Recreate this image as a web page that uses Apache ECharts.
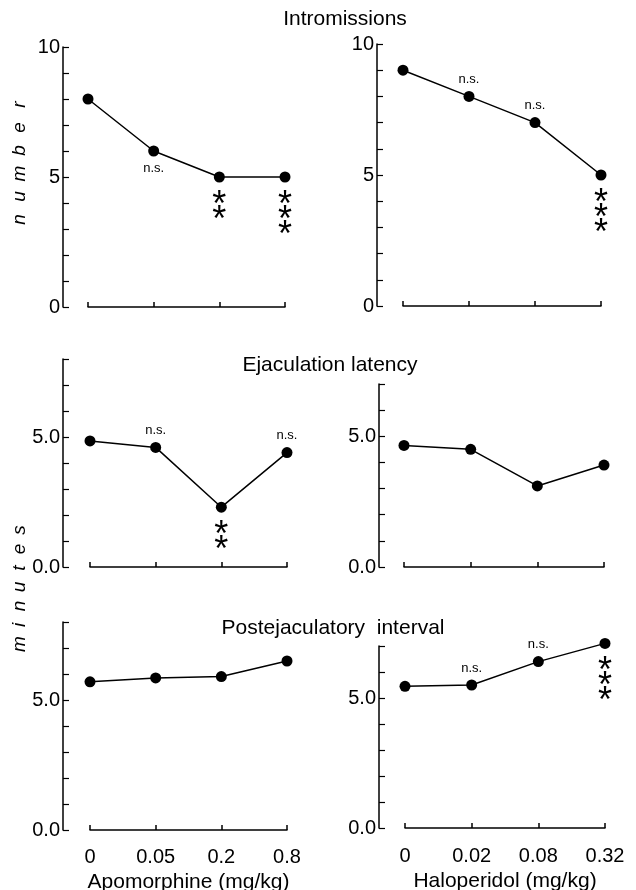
<!DOCTYPE html>
<html>
<head>
<meta charset="utf-8">
<script src="https://cdn.jsdelivr.net/npm/echarts@6/dist/echarts.min.js"></script>
<style>
  html, body { margin: 0; padding: 0; background: #fff; }
  #chart { width: 636px; height: 890px; }
</style>
</head>
<body>
<div id="chart"></div>
<script>
// doses (x categories)
const doseApo = ["0", "0.05", "0.2", "0.8"];
const doseHal = ["0", "0.02", "0.08", "0.32"];

// intromissions (number)
const intromApo = [8.0, 6.0, 5.0, 5.0];
const intromHal = [9.0, 8.0, 7.0, 5.0];
// ejaculation latency (minutes)
const latencyApo = [4.85, 4.6, 2.3, 4.4];
const latencyHal = [4.65, 4.5, 3.1, 3.9];
// postejaculatory interval (minutes)
const peiApo = [5.7, 5.85, 5.9, 6.5];
const peiHal = [5.45, 5.5, 6.4, 7.1];

// significance marks
const sigIntromApo = ["", "n.s.", "**", "***"];
const sigIntromHal = ["", "n.s.", "n.s.", "***"];
const sigLatencyApo = ["", "n.s.", "**", "n.s."];
const sigLatencyHal = ["", "", "", ""];
const sigPeiApo = ["", "", "", ""];
const sigPeiHal = ["", "n.s.", "n.s.", "***"];

const FONT = "Liberation Sans";

// one entry per panel
const panels = [
  { left: 88, top: 47, width: 197, height: 260, yOff: 25, xOff: 10, max: 10, dec: 0,
    cats: doseApo, data: intromApo, sig: sigIntromApo, nsPos: "bottom" },
  { left: 403, top: 44, width: 198, height: 262, yOff: 26, xOff: 12, max: 10, dec: 0,
    cats: doseHal, data: intromHal, sig: sigIntromHal, nsPos: "top" },
  { left: 90, top: 359, width: 197, height: 208, yOff: 27, xOff: 13, max: 8, dec: 1,
    cats: doseApo, data: latencyApo, sig: sigLatencyApo, nsPos: "top" },
  { left: 404, top: 384, width: 200, height: 183, yOff: 25, xOff: 12, max: 7, dec: 1,
    cats: doseHal, data: latencyHal, sig: sigLatencyHal, nsPos: "top" },
  { left: 90, top: 622, width: 197, height: 208, yOff: 27, xOff: 12, max: 8, dec: 1,
    cats: doseApo, data: peiApo, sig: sigPeiApo, nsPos: "top",
    name: "Apomorphine (mg/kg)" },
  { left: 405, top: 646, width: 200, height: 182, yOff: 26, xOff: 13, max: 7, dec: 1,
    cats: doseHal, data: peiHal, sig: sigPeiHal, nsPos: "top",
    name: "Haloperidol (mg/kg)" }
];

const axisLine = { show: true, lineStyle: { color: "#000", width: 1.5 } };

function pointLabel(mark, nsPos) {
  if (!mark) return { show: false };
  if (mark === "n.s.") {
    return { show: true, formatter: "n.s.", position: nsPos, distance: 5,
      fontFamily: FONT, fontSize: 13, color: "#000" };
  }
  // asterisks stacked vertically
  return { show: true, formatter: mark.split("").join("\n"), position: "bottom",
    distance: 16, fontFamily: FONT, fontSize: 36, lineHeight: 15, color: "#000" };
}

const grid = [], xAxis = [], yAxis = [], series = [];
panels.forEach(function(p, i) {
  grid.push({ left: p.left, top: p.top, width: p.width, height: p.height,
    containLabel: false, outerBoundsMode: "none" });
  xAxis.push({
    type: "category", gridIndex: i, data: p.cats, boundaryGap: false,
    offset: p.xOff, axisLine: axisLine,
    axisTick: { show: true, inside: true, length: 5, lineStyle: { color: "#000", width: 1.5 } },
    axisLabel: { show: !!p.name, color: "#000", fontFamily: FONT, fontSize: 20, margin: 5 },
    splitLine: { show: false },
    name: p.name || "", nameLocation: "middle", nameGap: 30,
    nameTextStyle: { color: "#000", fontFamily: FONT, fontSize: 21 }
  });
  yAxis.push({
    type: "value", gridIndex: i, min: 0, max: p.max, interval: 1,
    offset: p.yOff, axisLine: axisLine,
    axisTick: { show: true, inside: true, length: 6, lineStyle: { color: "#000", width: 1.2 } },
    axisLabel: {
      color: "#000", fontFamily: FONT, fontSize: 20, margin: 3,
      formatter: function(v) { return v % 5 === 0 ? v.toFixed(p.dec) : ""; }
    },
    splitLine: { show: false }
  });
  series.push({
    type: "line", xAxisIndex: i, yAxisIndex: i, clip: false,
    symbol: "circle", symbolSize: 11,
    lineStyle: { color: "#000", width: 1.5 },
    itemStyle: { color: "#000" },
    data: p.data.map(function(v, k) {
      return { value: v, label: pointLabel(p.sig[k], p.nsPos) };
    })
  });
});

// panel titles and rotated y-axis names
const graphic = [
  { type: "text", x: 345, y: 19, style: { text: "Intromissions", font: "21px " + FONT, fill: "#000", align: "center", verticalAlign: "middle" } },
  { type: "text", x: 330, y: 365, style: { text: "Ejaculation latency", font: "21px " + FONT, fill: "#000", align: "center", verticalAlign: "middle" } },
  { type: "text", x: 333, y: 628, style: { text: "Postejaculatory  interval", font: "21px " + FONT, fill: "#000", align: "center", verticalAlign: "middle" } }
];
function spacedName(word, cx, cy, step) {
  const n = word.length;
  word.split("").forEach(function(ch, k) {
    graphic.push({ type: "text", x: cx, y: cy + ((n - 1) / 2 - k) * step, rotation: Math.PI / 2,
      style: { text: ch, font: "italic 19px " + FONT, fill: "#000", align: "center", verticalAlign: "middle" } });
  });
}
spacedName("number", 20, 162, 23);
spacedName("minutes", 20, 587, 19);

const chart = echarts.init(document.getElementById("chart"), null, { renderer: "canvas" });
chart.setOption({
  animation: false,
  backgroundColor: "#fff",
  grid: grid, xAxis: xAxis, yAxis: yAxis, series: series,
  graphic: graphic
});
</script>
</body>
</html>
